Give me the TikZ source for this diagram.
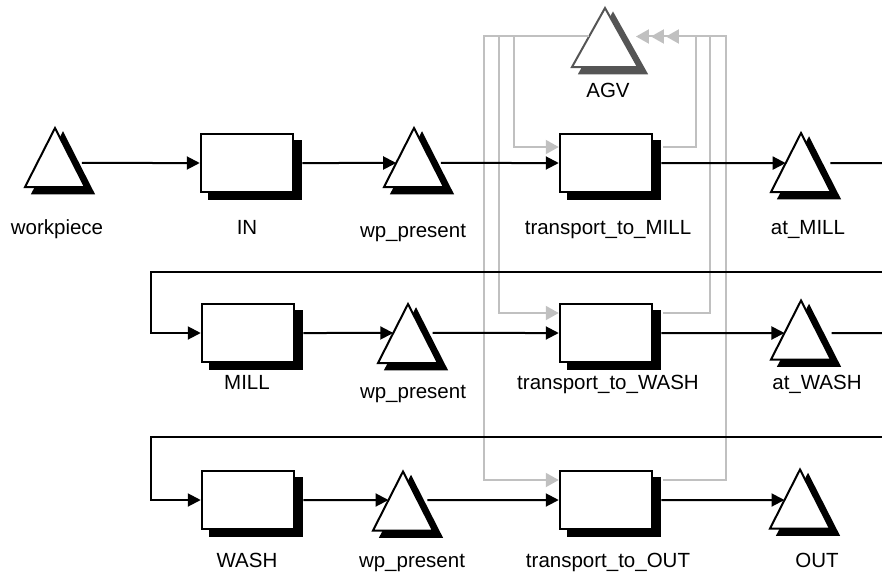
\documentclass[tikz,border=0pt]{standalone}
\usepackage{fontspec}
\setmainfont{Liberation Sans}
\usetikzlibrary{arrows.meta,calc,shadows}
\definecolor{lgray}{HTML}{C0C0C0}
\definecolor{agvgray}{HTML}{555555}
\tikzset{
  trinode/.style={rectangle, inner sep=0pt, outer sep=0pt, minimum height=59pt},
  mybox/.style={rectangle, draw=black, line width=2.5pt, fill=white,
    minimum width=92pt, minimum height=58pt, inner sep=0pt,
    general shadow={fill=black, draw=black, shadow xshift=8pt, shadow yshift=-7pt}},
  lbl/.style={anchor=base, inner sep=0pt, font=\fontsize{20.5pt}{24pt}\selectfont},
  bl/.style={black, line width=2pt, -{Triangle[length=13pt,width=13pt]}},
  blp/.style={black, line width=2pt},
  gl/.style={lgray, line width=2pt, -{Triangle[length=13pt,width=14pt]}}
}
\newcommand{\mytri}[5][black]{%
  \node[trinode, minimum width=#5pt] (#2) at (#3,#4) {};
  \filldraw[#1, line width=2.5pt, line join=miter]
    ($(#2.north)+(8,6)$) -- ($(#2.south west)+(8,6)$) -- ($(#2.south east)+(8,6)$) -- cycle;
  \draw[#1, fill=white, line width=2pt, line join=miter]
    (#2.north) -- (#2.south west) -- (#2.south east) -- cycle;
}
\begin{document}
\begin{tikzpicture}[x=1pt,y=-1pt]
\useasboundingbox (0,0) rectangle (882,576);
% triangles
\mytri{wp0}{55}{157.5}{60}
\mytri{wp1}{414}{157.5}{60}
\mytri{atmill}{801}{162.5}{60}
\mytri{wp2}{408}{333.5}{60}
\mytri{atwash}{801}{330}{60}
\mytri{wp3}{403}{501}{60}
\mytri{outt}{800}{499}{60}
\mytri[agvgray]{agv}{605}{37.5}{66}
% boxes
\node[mybox] (IN) at (247,163) {};
\node[mybox] (tMILL) at (606,163) {};
\node[mybox] (MILL) at (248,333) {};
\node[mybox] (tWASH) at (606,333) {};
\node[mybox] (WASH) at (248,500) {};
\node[mybox] (tOUT) at (606,500) {};
% labels
\node[lbl] (lwp0) at (57,234) {workpiece};
\node[lbl] (lIN) at (247,234) {IN};
\node[lbl] (lwp1) at (413,237) {wp\_present};
\node[lbl] (ltMILL) at (608,234) {transport\_to\_MILL};
\node[lbl] (latmill) at (808,234) {at\_MILL};
\node[lbl] (lMILL) at (247,389) {MILL};
\node[lbl] (lwp2) at (413,398) {wp\_present};
\node[lbl] (ltWASH) at (608,389) {transport\_to\_WASH};
\node[lbl] (latwash) at (817,389) {at\_WASH};
\node[lbl] (lWASH) at (247,567) {WASH};
\node[lbl] (lwp3) at (412,567) {wp\_present};
\node[lbl] (ltOUT) at (608,567) {transport\_to\_OUT};
\node[lbl] (lout) at (817,567) {OUT};
\node[lbl] (lagv) at (608,97) {AGV};
% AGV connection points
\coordinate (agvL) at ($(agv.north)!0.483!(agv.south west)$);
\coordinate (agvR) at ($(agv.north)!0.483!(agv.south east)$);
% gray lines: AGV to transports
\draw[gl] (agvL) -| ($(tMILL.west)+(-45,-16)$) -- ($(tMILL.west)+(0,-16)$);
\draw[gl] (agvL) -| ($(tWASH.west)+(-60,-20)$) -- ($(tWASH.west)+(0,-20)$);
\draw[gl] (agvL) -| ($(tOUT.west)+(-75,-20)$) -- ($(tOUT.west)+(0,-20)$);
% gray lines: transports back to AGV
\draw[gl] ($(tMILL.east)+(10,-16)$) -| ($(agvR)+(75,0)$) -- ($(agvR)+(45,0)$);
\draw[gl] ($(tWASH.east)+(10,-20)$) -| ($(agvR)+(89,0)$) -- ($(agvR)+(30,0)$);
\draw[gl] ($(tOUT.east)+(10,-20)$) -| ($(agvR)+(105,0)$) -- ($(agvR)+(15,0)$);
% row 1
\draw[bl] ($(wp0.north)!0.593!(wp0.south east)+(9,0)$) -- (IN.west);
\draw[bl] ($(IN.east)+(8,0)$) -- ($(wp1.north)!0.593!(wp1.south west)$);
\draw[bl] ($(wp1.north)!0.593!(wp1.south east)+(9,0)$) -- (tMILL.west);
\draw[bl] ($(tMILL.east)+(8,0)$) -- ($(atmill.north)!0.51!(atmill.south west)$);
\coordinate (cut1) at (882,163);
\coordinate (cut1b) at (882,272);
\draw[blp] ($(atmill.north)!0.51!(atmill.south east)+(14,0)$) -- (cut1);
\draw[bl] (cut1b) -- (151,272) |- (MILL.west);
% row 2
\draw[bl] ($(MILL.east)+(8,0)$) -- ($(wp2.north)!0.491!(wp2.south west)$);
\draw[bl] ($(wp2.north)!0.491!(wp2.south east)+(10,0)$) -- (tWASH.west);
\draw[bl] ($(tWASH.east)+(8,0)$) -- ($(atwash.north)!0.551!(atwash.south west)$);
\coordinate (cut2) at (882,333);
\coordinate (cut2b) at (882,437);
\draw[blp] ($(atwash.north)!0.551!(atwash.south east)+(14,0)$) -- (cut2);
\draw[bl] (cut2b) -- (151,437) |- (WASH.west);
% row 3
\draw[bl] ($(WASH.east)+(8,0)$) -- ($(wp3.north)!0.483!(wp3.south west)$);
\draw[bl] ($(wp3.north)!0.483!(wp3.south east)+(10,0)$) -- (tOUT.west);
\draw[bl] ($(tOUT.east)+(8,0)$) -- ($(outt.north)!0.517!(outt.south west)$);
\end{tikzpicture}
\end{document}
